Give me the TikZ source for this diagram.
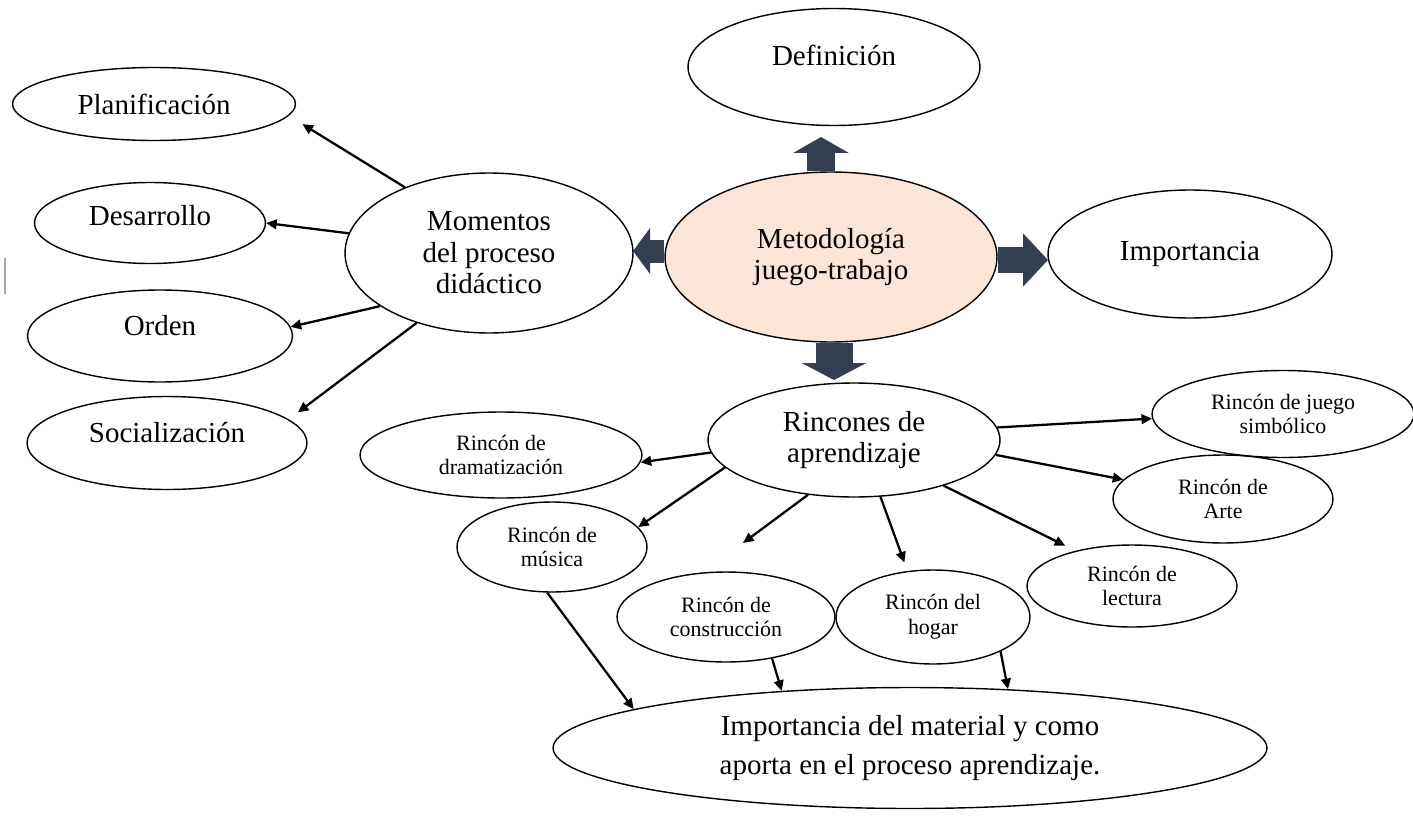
\documentclass[tikz,border=0pt]{standalone}
\usepackage{fontspec}
\setmainfont{Liberation Serif}
\usepackage{xcolor}
\usetikzlibrary{shapes.geometric, arrows.meta}

\definecolor{melocoton}{HTML}{FBE5D6}
\definecolor{pizarra}{HTML}{333F50}

\begin{document}
\begin{tikzpicture}[x=0.02cm, y=-0.02cm]
    \tikzstyle{idea} = [ellipse, draw=black, line width=0.8pt, inner sep=0pt, align=center, font=\fontsize{16.5}{18}\selectfont]
    \tikzstyle{rincon} = [idea, font=\fontsize{12.5}{14}\selectfont]
    \tikzstyle{centro} = [idea, fill=melocoton]
    \tikzstyle{flecha} = [line width=1.3pt, -{Triangle[length=6pt, width=5.5pt]}]
    \tikzstyle{bloque} = [draw=pizarra, line width=0.56cm, -{Triangle[length=0.32cm, width=1.1cm]}]

    \useasboundingbox (0,0) rectangle (1413,818);
    \draw [gray!70, line width=1pt] (5,258) -- (5,294);

    % centro y tema principal
    \node (meto) [centro, minimum width=6.64cm, minimum height=3.4cm] at (831,257) {Metodología\\juego-trabajo};
    \node (defi) [idea, minimum width=5.84cm, minimum height=2.34cm, text depth=0.48cm] at (834,67) {Definición};
    \node (impo) [idea, minimum width=5.68cm, minimum height=2.56cm] at (1190,254) {Importancia};
    \node (mome) [idea, minimum width=5.76cm, minimum height=3.2cm] at (489,253) {Momentos\\del proceso\\didáctico};
    \node (rinc) [idea, minimum width=5.84cm, minimum height=2.28cm] at (854,440) {Rincones de\\aprendizaje};

    % momentos
    \node (plan) [idea, minimum width=5.66cm, minimum height=1.46cm] at (154,104) {Planificación};
    \node (desa) [idea, minimum width=4.62cm, minimum height=1.62cm, text depth=0.32cm] at (150,223) {Desarrollo};
    \node (orde) [idea, minimum width=5.3cm, minimum height=1.84cm, text depth=0.44cm] at (160,336) {Orden};
    \node (soci) [idea, minimum width=5.6cm, minimum height=1.86cm, text depth=0.44cm] at (167,443) {Socialización};

    % rincones
    \node (dram) [rincon, minimum width=5.64cm, minimum height=1.72cm] at (501,455) {Rincón de\\dramatización};
    \node (musi) [rincon, minimum width=3.8cm, minimum height=1.8cm] at (552,547) {Rincón de\\música};
    \node (cons) [rincon, minimum width=4.36cm, minimum height=1.8cm] at (726,617) {Rincón de\\construcción};
    \node (hoga) [rincon, minimum width=3.88cm, minimum height=1.88cm] at (933,617) {Rincón del\\hogar};
    \node (lect) [rincon, minimum width=4.2cm, minimum height=1.64cm] at (1132,586) {Rincón de\\lectura};
    \node (arte) [rincon, minimum width=4.4cm, minimum height=1.76cm] at (1223,499) {Rincón de\\Arte};
    \node (jueg) [rincon, minimum width=5.24cm, minimum height=1.74cm] at (1283,414) {Rincón de juego\\simbólico};
    \node (mate) [idea, minimum width=14.28cm, minimum height=2.42cm, font=\fontsize{16.5}{22}\selectfont] at (910,748) {Importancia del material y como\\aporta en el proceso aprendizaje.};

    \coordinate (defTip) at (821,137);
    \coordinate (rinTip) at (834,380);
    \coordinate (momTip) at (633,251);
    \coordinate (impTip) at (1048,260);
    \coordinate (conTip) at (743,543);

    % flechas gruesas
    \draw [bloque] (meto.north -| defTip) -- (defTip);
    \draw [bloque, line width=0.74cm, -{Triangle[length=0.34cm, width=1.28cm]}] (meto.south -| rinTip) -- (rinTip);
    \draw [bloque, line width=0.46cm, -{Triangle[length=0.34cm, width=0.9cm]}] (meto.west |- momTip) -- (momTip);
    \draw [bloque, line width=0.52cm, -{Triangle[length=0.5cm, width=1.04cm]}] (meto.east |- impTip) -- (impTip);

    \draw [flecha, shorten >=0.32cm] (mome.142) -- (plan.-5);
    \draw [flecha] (mome.172) -- (desa.east);
    \draw [flecha] (mome.206) -- (orde.4);
    \draw [flecha, shorten >=0.23cm] (mome.224) -- (soci.11);

    \draw [flecha] (rinc.185) -- (dram.-3);
    \draw [flecha] (rinc.192) -- (musi.13);
    \draw [flecha] (rinc.230) -- (conTip);
    \draw [flecha, shorten >=0.18cm] (rinc.-65) -- (hoga.119);
    \draw [flecha, shorten >=0.23cm] (rinc.-27) -- (lect.148);
    \draw [flecha] (rinc.-6) -- (arte.169);
    \draw [flecha] (rinc.5) -- (jueg.182);

    \draw [flecha] (musi.264) -- (mate.172);
    \draw [flecha] (cons.-42) -- (mate.156);
    \draw [flecha] (hoga.-27) -- (mate.31);
\end{tikzpicture}
\end{document}
